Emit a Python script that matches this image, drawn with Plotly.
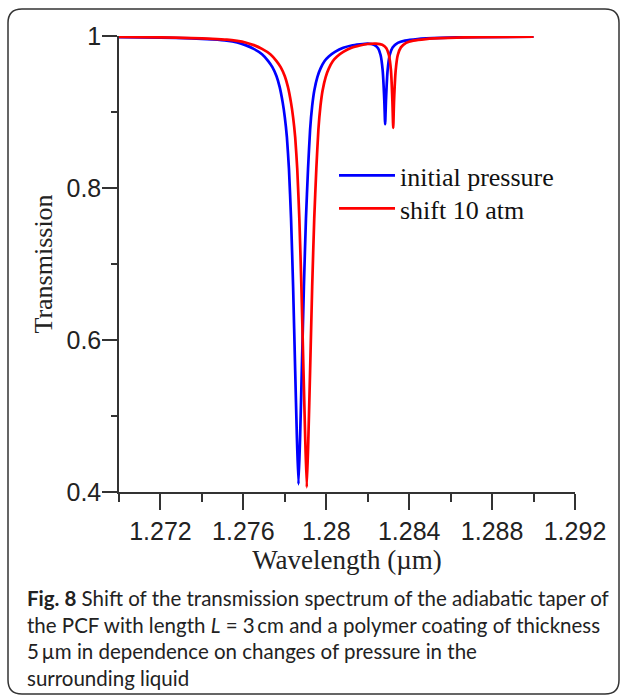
import plotly.graph_objects as go

# ---- data ----
blue_wl = [1.2700, 1.2720, 1.2735, 1.2745, 1.2752, 1.2757, 1.2761, 1.2765, 1.2769, 1.2772,
           1.2774, 1.2776, 1.27775, 1.27790, 1.27800, 1.27810, 1.27820, 1.27830, 1.27840,
           1.27850, 1.27858, 1.27866, 1.27874, 1.27882, 1.27892, 1.27902, 1.27912, 1.27922,
           1.27932, 1.27942, 1.27957, 1.27972, 1.27992, 1.28012, 1.28042, 1.28082, 1.28122,
           1.28162, 1.28200, 1.28230, 1.28250, 1.28262, 1.28272, 1.28280, 1.28284, 1.28288,
           1.28296, 1.28306, 1.28320, 1.28345, 1.28380, 1.28440, 1.28550, 1.28700, 1.29000]
blue_T = [0.9985, 0.9978, 0.9968, 0.9955, 0.9940, 0.9915, 0.9880, 0.9830, 0.9760, 0.9670,
          0.9590, 0.9470, 0.9330, 0.9120, 0.8930, 0.8670, 0.8250, 0.7600, 0.6700,
          0.5600, 0.4750, 0.4100, 0.4750, 0.5600, 0.6700, 0.7600, 0.8250, 0.8770,
          0.9080, 0.9280, 0.9460, 0.9570, 0.9670, 0.9730, 0.9790, 0.9845, 0.9875,
          0.9890, 0.9900, 0.9885, 0.9840, 0.9750, 0.9550, 0.9150, 0.8840, 0.9150,
          0.9550, 0.9750, 0.9850, 0.9910, 0.9940, 0.9960, 0.9975, 0.9985, 0.9992]

red_wl = [1.2700, 1.2720, 1.2735, 1.2745, 1.2752, 1.2757, 1.2761, 1.2765, 1.2769, 1.2773,
          1.2776, 1.2778, 1.2780, 1.27815, 1.27830, 1.27840, 1.27850, 1.27860, 1.27870,
          1.27880, 1.27890, 1.27898, 1.27906, 1.27914, 1.27922, 1.27932, 1.27942, 1.27952,
          1.27962, 1.27972, 1.27982, 1.27997, 1.28012, 1.28032, 1.28052, 1.28082, 1.28122,
          1.28162, 1.28200, 1.28240, 1.28270, 1.28290, 1.28302, 1.28312, 1.28319, 1.28323,
          1.28327, 1.28335, 1.28345, 1.28360, 1.28385, 1.28420, 1.28480, 1.28590, 1.28740,
          1.29000]
red_T = [0.9987, 0.9981, 0.9973, 0.9963, 0.9952, 0.9935, 0.9915, 0.9880, 0.9830, 0.9760,
         0.9670, 0.9590, 0.9470, 0.9330, 0.9120, 0.8930, 0.8670, 0.8250, 0.7600,
         0.6700, 0.5600, 0.4750, 0.4060, 0.4750, 0.5600, 0.6700, 0.7600, 0.8250,
         0.8770, 0.9080, 0.9280, 0.9460, 0.9570, 0.9670, 0.9730, 0.9790, 0.9845,
         0.9875, 0.9895, 0.9900, 0.9885, 0.9840, 0.9750, 0.9550, 0.9150, 0.8790,
         0.9150, 0.9550, 0.9750, 0.9850, 0.9910, 0.9940, 0.9960, 0.9975, 0.9985,
         0.9990]

series_names = ["initial pressure", "shift 10 atm"]
series_colors = ["#0000ff", "#ff0000"]

x_tickvals = [1.272, 1.276, 1.280, 1.284, 1.288, 1.292]
x_ticktext = ["1.272", "1.276", "1.28", "1.284", "1.288", "1.292"]
x_minor = [1.270, 1.274, 1.278, 1.282, 1.286, 1.290]
y_tickvals = [0.4, 0.6, 0.8, 1.0]
y_ticktext = ["0.4", "0.6", "0.8", "1"]
y_minor = [0.5, 0.7, 0.9]

caption_lines = [
    "<b>Fig. 8</b> Shift of the transmission spectrum of the adiabatic taper of",
    "the PCF with length <i>L</i> = 3\u2009cm and a polymer coating of thickness",
    "5\u2009µm in dependence on changes of pressure in the",
    "surrounding liquid",
]

# ---- layout geometry (pixels) ----
W, H = 623, 697
L, R, T, B = 119, 575, 36, 492
pw, ph = R - L, B - T


def px(x):
    return (x - L) / pw


def py(y):
    return (B - y) / ph


fig = go.Figure()
legend_ids = ["legend", "legend2"]
for wl, tr, name, col, lg in [(blue_wl, blue_T, series_names[0], series_colors[0], legend_ids[0]),
                              (red_wl, red_T, series_names[1], series_colors[1], legend_ids[1])]:
    fig.add_trace(go.Scatter(x=wl, y=tr, mode="lines", name=name, legend=lg,
                             line=dict(color=col, width=2.7, shape="spline", smoothing=0.5)))

axis_col = "#333333"
leg_common = dict(xanchor="left", yanchor="top", bgcolor="rgba(0,0,0,0)", borderwidth=0,
                  font=dict(family="Liberation Serif", size=26, color="#111"), itemwidth=56)
fig.update_layout(
    width=W, height=H,
    margin=dict(l=L, r=W - R, t=T, b=H - B, pad=0),
    paper_bgcolor="white", plot_bgcolor="white",
    showlegend=True,
    legend=dict(x=px(334), y=py(152), **leg_common),
    legend2=dict(x=px(334), y=py(185), **leg_common),
    xaxis=dict(range=[1.270, 1.292], showgrid=False, zeroline=False,
               showline=True, linecolor=axis_col, linewidth=1.5,
               tickmode="array", tickvals=x_tickvals, ticktext=x_ticktext,
               ticks="outside", ticklen=16, tickwidth=1.5, tickcolor=axis_col,
               minor=dict(tickmode="array", tickvals=x_minor, ticks="outside",
                          ticklen=8, tickwidth=1.5, tickcolor=axis_col),
               tickfont=dict(family="Liberation Sans", size=25, color="#222"),
               title=dict(text="Wavelength (µm)", standoff=4,
                          font=dict(family="Liberation Serif", size=27, color="#222"))),
    yaxis=dict(range=[0.4, 1.0], showgrid=False, zeroline=False,
               showline=True, linecolor=axis_col, linewidth=1.5,
               tickmode="array", tickvals=y_tickvals, ticktext=y_ticktext,
               ticks="outside", ticklen=15, tickwidth=1.5, tickcolor=axis_col,
               ticklabelstandoff=-4,
               minor=dict(tickmode="array", tickvals=y_minor, ticks="outside",
                          ticklen=6, tickwidth=1.5, tickcolor=axis_col),
               tickfont=dict(family="Liberation Sans", size=25, color="#222"),
               title=dict(text="Transmission", standoff=6,
                          font=dict(family="Liberation Serif", size=26, color="#222"))),
)

# caption
cap_y = [598, 625, 651, 678]
for txt, yy in zip(caption_lines, cap_y):
    fig.add_annotation(text=txt, xref="paper", yref="paper", x=px(25), y=py(yy),
                       xanchor="left", yanchor="middle", showarrow=False,
                       font=dict(family="Lato", size=20.5, color="#222"))

# rounded frame around figure + caption
x0, y0, x1, y1, r = 8, 9, 619, 694, 14
path = (f"M {px(x0)},{py(y0 + r)} Q {px(x0)},{py(y0)} {px(x0 + r)},{py(y0)} "
        f"L {px(x1 - r)},{py(y0)} Q {px(x1)},{py(y0)} {px(x1)},{py(y0 + r)} "
        f"L {px(x1)},{py(y1 - r)} Q {px(x1)},{py(y1)} {px(x1 - r)},{py(y1)} "
        f"L {px(x0 + r)},{py(y1)} Q {px(x0)},{py(y1)} {px(x0)},{py(y1 - r)} Z")
fig.add_shape(type="path", path=path, xref="paper", yref="paper",
              line=dict(color="#333333", width=1.5), layer="below")

fig.write_html("out.html")
